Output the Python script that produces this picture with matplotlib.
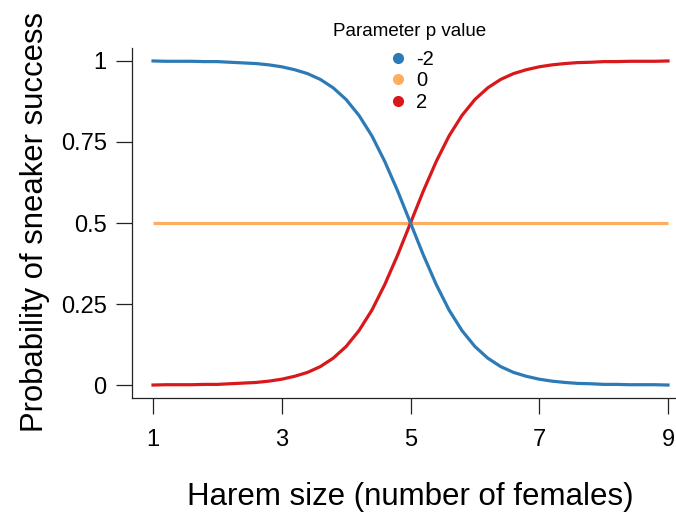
import matplotlib
matplotlib.use("Agg")
import matplotlib.pyplot as plt
from matplotlib.lines import Line2D

plt.rcParams['font.family'] = ['Liberation Sans', 'DejaVu Sans']

# harem size grid and probability of sneaker success for each p value
harem = [1.0, 1.2, 1.4, 1.6, 1.8, 2.0, 2.2, 2.4, 2.6, 2.8, 3.0, 3.2, 3.4, 3.6, 3.8, 4.0,
         4.2, 4.4, 4.6, 4.8, 5.0, 5.2, 5.4, 5.6, 5.8, 6.0, 6.2, 6.4, 6.6, 6.8, 7.0, 7.2,
         7.4, 7.6, 7.8, 8.0, 8.2, 8.4, 8.6, 8.8, 9.0]
p_pos = [0.000, 0.001, 0.001, 0.001, 0.002, 0.002, 0.004, 0.006, 0.008, 0.012, 0.018,
         0.027, 0.039, 0.057, 0.083, 0.119, 0.168, 0.231, 0.310, 0.401, 0.500, 0.599,
         0.690, 0.769, 0.832, 0.881, 0.917, 0.943, 0.961, 0.973, 0.982, 0.988, 0.992,
         0.995, 0.996, 0.998, 0.998, 0.999, 0.999, 0.999, 1.000]
p_neg = [1.000, 0.999, 0.999, 0.999, 0.998, 0.998, 0.996, 0.994, 0.992, 0.988, 0.982,
         0.973, 0.961, 0.943, 0.917, 0.881, 0.832, 0.769, 0.690, 0.599, 0.500, 0.401,
         0.310, 0.231, 0.168, 0.119, 0.083, 0.057, 0.039, 0.027, 0.018, 0.012, 0.008,
         0.005, 0.004, 0.002, 0.002, 0.001, 0.001, 0.001, 0.000]
flat_x = [1, 9]
p_zero = [0.5, 0.5]

p_labels = ['-2', '0', '2']
colors = ['#2c7bb6', '#fdae61', '#d7191c']

fig = plt.figure(figsize=(6.76, 5.16), dpi=100)
ax = fig.add_axes([132.4 / 676, 118 / 516, 556.2 / 676, 350 / 516])

ax.plot(flat_x, p_zero, color=colors[1], lw=2.3, solid_capstyle='butt')
ax.plot(harem, p_pos, color=colors[2], lw=2.3)
ax.plot(harem, p_neg, color=colors[0], lw=2.3)

ax.set_xlim(0.68, 9.32)
ax.set_ylim(-0.04, 1.04)
ax.set_xticks([1, 3, 5, 7, 9])
ax.set_yticks([0, 0.25, 0.5, 0.75, 1])
ax.set_yticklabels(['0', '0.25', '0.5', '0.75', '1'])

for side in ['top', 'right']:
    ax.spines[side].set_visible(False)
for side in ['left', 'bottom']:
    ax.spines[side].set_linewidth(0.9)
    ax.spines[side].set_color('#222222')
ax.tick_params(axis='both', length=11.5, width=0.9, color='#222222', labelsize=17)
ax.tick_params(axis='x', pad=11)
ax.tick_params(axis='y', pad=7)

ax.set_xlabel('Harem size (number of females)', fontsize=22.5)
ax.set_ylabel('Probability of sneaker success', fontsize=22.3)
ax.xaxis.set_label_coords(0.499, -0.283)
ax.xaxis.label.set_va('center')
ax.yaxis.set_label_coords(-0.175, 0.503)
ax.yaxis.label.set_va('center')

handles = [Line2D([], [], marker='o', linestyle='none', color=c, markersize=7)
           for c in colors]
leg = ax.legend(handles, p_labels, title='Parameter p value', frameon=False,
                loc='upper center', bbox_to_anchor=(410 / 676, 1 - 13 / 516),
                bbox_transform=fig.transFigure, fontsize=14.5, title_fontsize=13.5,
                handlelength=1.2, handletextpad=0.3, labelspacing=0.13, borderpad=0)
leg._legend_box.sep = 7

fig.savefig('out.png', dpi=100)
